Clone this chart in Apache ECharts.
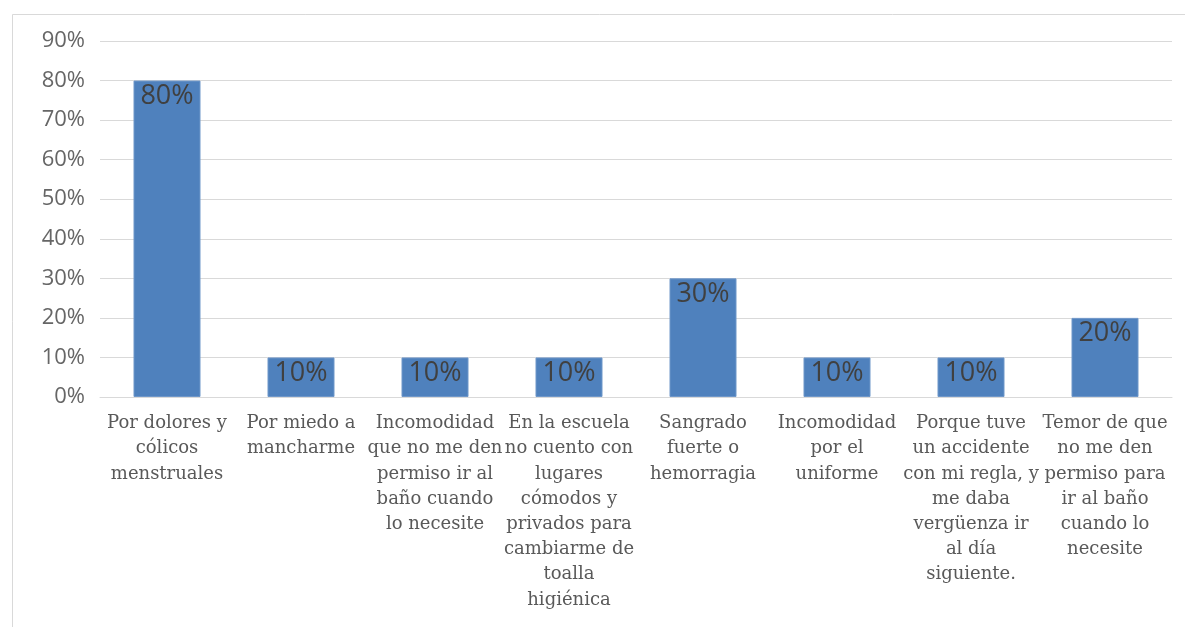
<!DOCTYPE html>
<html>
<head>
<meta charset="utf-8">
<script src="https://cdn.jsdelivr.net/npm/echarts@6/dist/echarts.min.js"></script>
<style>html,body{margin:0;padding:0;background:#fff;}#c{width:1185px;height:627px;}</style>
</head>
<body>
<div id="c"></div>
<script>
const categories = [
  "Por dolores y\ncólicos\nmenstruales",
  "Por miedo a\nmancharme",
  "Incomodidad\nque no me den\npermiso ir al\nbaño cuando\nlo necesite",
  "En la escuela\nno cuento con\nlugares\ncómodos y\nprivados para\ncambiarme de\ntoalla\nhigiénica",
  "Sangrado\nfuerte o\nhemorragia",
  "Incomodidad\npor el\nuniforme",
  "Porque tuve\nun accidente\ncon mi regla, y\nme daba\nvergüenza ir\nal día\nsiguiente.",
  "Temor de que\nno me den\npermiso para\nir al baño\ncuando lo\nnecesite"
];
const values = [80, 10, 10, 10, 30, 10, 10, 20];
const yTicks = [0, 10, 20, 30, 40, 50, 60, 70, 80, 90];

const chart = echarts.init(document.getElementById('c'), null, {renderer: 'canvas'});
chart.setOption({
  animation: false,
  backgroundColor: '#fff',
  graphic: [{
    type: 'rect', shape: {x: 12.5, y: 14.5, width: 1200, height: 700},
    style: {fill: 'none', stroke: '#d9d9d9', lineWidth: 1}, silent: true
  }],
  grid: {left: 100, right: 13, top: 41, bottom: 230, containLabel: false},
  xAxis: {
    type: 'category', data: categories,
    axisLine: {show: true, lineStyle: {color: '#d9d9d9', width: 1}},
    axisTick: {show: false},
    axisLabel: {
      interval: 0, margin: 14, color: '#595959',
      fontFamily: "'DejaVu Serif', serif", fontSize: 18, lineHeight: 25.2, align: 'center'
    }
  },
  yAxis: {
    type: 'value', min: 0, max: 90, interval: 10,
    axisLine: {show: false}, axisTick: {show: false},
    splitLine: {lineStyle: {color: '#d9d9d9', width: 1}},
    axisLabel: {
      margin: 15, color: '#666666', fontFamily: "'Open Sans', sans-serif", fontSize: 22,
      formatter: v => yTicks.includes(v) ? v + '%' : ''
    }
  },
  series: [{
    type: 'bar', data: values, barWidth: '50%',
    itemStyle: {color: '#4f81bd', borderColor: '#6f97c9', borderWidth: 1},
    label: {
      show: true, position: 'insideTop', distance: 2,
      color: '#404040', fontFamily: "'Open Sans', sans-serif", fontSize: 27,
      formatter: p => p.value + '%'
    }
  }]
});
</script>
</body>
</html>
